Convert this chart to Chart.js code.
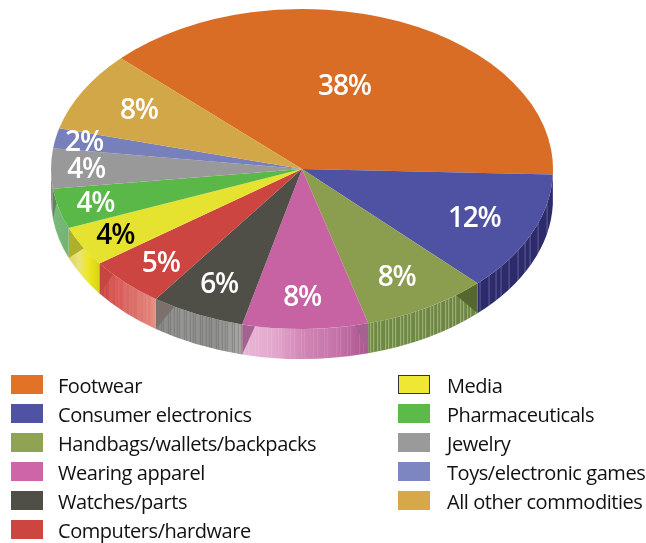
<!DOCTYPE html>
<html>
<head>
<meta charset="utf-8">
<style>
  html, body { margin: 0; background: #fff; }
  #wrap { position: relative; width: 646px; height: 543px; overflow: hidden; }
  #pie { position: absolute; left: 0; top: 0; }
  .key { position: absolute; font: 20px/29px "Open Sans", sans-serif; color: #111; white-space: nowrap; letter-spacing: -0.45px; }
  .key i { position: absolute; left: 0; top: 4px; width: 32px; height: 19px; box-sizing: border-box; }
  .key span { position: absolute; top: 0; }
</style>
</head>
<body>
<div id="wrap">
  <canvas id="pie" width="646" height="543"></canvas>
</div>
<script src="https://cdn.jsdelivr.net/npm/chart.js@4"></script>
<script>
const categories = ['Footwear', 'Consumer electronics', 'Handbags/wallets/backpacks', 'Wearing apparel', 'Watches/parts',
  'Computers/hardware', 'Media', 'Pharmaceuticals', 'Jewelry', 'Toys/electronic games', 'All other commodities']
const shares = [38, 12, 8, 8, 6, 5, 4, 4, 4, 2, 8]

const faceColors = ['#d96d25', '#4f52a3', '#8b9e4f', '#c763a3', '#4f4f47', '#cc4540', '#e6e230', '#5ab848', '#999999', '#7880bb', '#d2a747']
const swatchColors = ['#e27326', '#5052a4', '#8fa352', '#cf65a9', '#4f4f47', '#cc4540', '#eee834', '#5cbb48', '#9a9a9a', '#7d86c0', '#d6a84a']
const labelColors = ['#fff', '#fff', '#fff', '#fff', '#fff', '#fff', '#000', '#fff', '#fff', '#fff', '#fff']
const labelRadius = [0.55, 0.75, 0.77, 0.8, 0.79, 0.81, 0.85, 0.85, 0.86, 0.885, 0.75]
const labelShift = [-5, 0, 0.5, 0.7, 0, -0.7, 0, 0, 0, 0, 0.7]

// pie ellipse on the page
const cx = 302, cy = 169, rx = 251, ry = 160, depth = 30

// side wall look per slice: gradient left to right, stripes, corner shadow
const walls = [
  null,
  { stops: ['#2d2b6c', '#2d2b6c'], stripe: 'rgba(150,150,190,0.5)', gaps: [9, 7, 5, 8] },
  { stops: ['#6f8a45', '#6c8444'], stripe: 'rgba(190,205,150,0.7)', gaps: [3, 4, 3, 5], shade: '#56682f', shadeAt: 'start', shadeDeg: 6.5 },
  { stops: ['#e8b6d6', '#e3a8cc', '#d184b4', '#c473a8', '#ac5490'], stripe: 'rgba(255,255,255,0.12)', gaps: [4, 7, 3, 9], shade: '#a5618f', shadeAt: 'both', shadeDeg: 3 },
  { stops: ['#8a8a88', '#959593', '#8f8f8d', '#a8a8a6'], stripe: 'rgba(70,70,70,0.28)', gaps: [3, 2, 5, 2, 4], shade: '#7d6f6b', shadeAt: 'end', shadeDeg: 5 },
  { stops: ['#c8413f', '#d95a58', '#da7169', '#e6897c'], stripe: 'rgba(255,255,255,0.12)', gaps: [3, 5, 2, 4], shade: '#c7453f', shadeAt: 'end', shadeDeg: 5 },
  { stops: ['#dcd95e', '#e8e47c', '#ece620', '#d8d212'], shade: '#aeb02c', shadeAt: 'end', shadeDeg: 8 },
  { stops: ['#79b97a', '#72b474'], shade: '#5b8a50', shadeAt: 'end', shadeDeg: 5 },
  { stops: ['#8f8f8f', '#8f8f8f'] },
  null, null
]

function ellipseX(a) { return cx + rx * Math.cos(a) }
function ellipseY(a) { return cy + ry * Math.sin(a) }

function drawWall(ctx, wall, a0, a1, start, end) {
  const x0 = Math.min(ellipseX(a0), ellipseX(a1)), x1 = Math.max(ellipseX(a0), ellipseX(a1))
  ctx.save()
  ctx.beginPath()
  ctx.ellipse(cx, cy, rx, ry, 0, a0, a1)
  ctx.ellipse(cx, cy + depth, rx, ry, 0, a1, a0, true)
  ctx.closePath()
  ctx.clip()

  const grad = ctx.createLinearGradient(x0, 0, x1, 0)
  wall.stops.forEach((c, i) => grad.addColorStop(i / (wall.stops.length - 1), c))
  ctx.fillStyle = grad
  ctx.fillRect(x0 - 1, cy, x1 - x0 + 2, ry + depth + 2)

  if (wall.stripe) {
    ctx.fillStyle = wall.stripe
    let x = x0 + 2, i = 0
    while (x < x1) {
      ctx.fillRect(x, cy, 1, ry + depth + 2)
      x += wall.gaps[i++ % wall.gaps.length]
    }
  }

  // shadow wedge in the top corner of a wall
  const wedge = (edge, toward) => {
    ctx.fillStyle = wall.shade
    ctx.beginPath()
    ctx.moveTo(ellipseX(edge), ellipseY(edge))
    ctx.lineTo(ellipseX(toward), ellipseY(toward))
    ctx.lineTo(ellipseX(edge), ellipseY(edge) + depth)
    ctx.closePath()
    ctx.fill()
  }
  const d = (wall.shadeDeg || 0) * Math.PI / 180
  if (wall.shadeAt === 'start' || wall.shadeAt === 'both') wedge(start, start + d)
  if (wall.shadeAt === 'end' || wall.shadeAt === 'both') wedge(end, end - d)
  ctx.restore()
}

// tilts the pie into an ellipse and puts the thickness under it
const tiltPlugin = {
  id: 'tilt',
  beforeDatasetDraw(chart) {
    const ctx = chart.ctx
    const arcs = chart.getDatasetMeta(0).data
    arcs.forEach((arc, i) => {
      if (!walls[i]) return
      const a0 = Math.max(arc.startAngle, 0), a1 = Math.min(arc.endAngle, Math.PI)
      if (a1 > a0) drawWall(ctx, walls[i], a0, a1, arc.startAngle, arc.endAngle)
    })
    const first = arcs[0]
    ctx.save()
    ctx.translate(cx, cy)
    ctx.scale(rx / first.outerRadius, ry / first.outerRadius)
    ctx.translate(-first.x, -first.y)
  },
  afterDatasetDraw(chart) {
    chart.ctx.restore()
  },
  afterDraw(chart) {
    const ctx = chart.ctx
    ctx.save()
    ctx.font = '600 28px "Open Sans", sans-serif'
    ctx.letterSpacing = '-1.2px'
    ctx.textAlign = 'center'
    ctx.textBaseline = 'middle'
    chart.getDatasetMeta(0).data.forEach((arc, i) => {
      const mid = (arc.startAngle + arc.endAngle) / 2 + labelShift[i] * Math.PI / 180
      ctx.fillStyle = labelColors[i]
      ctx.fillText(shares[i] + '%', cx + rx * labelRadius[i] * Math.cos(mid), cy + 1.5 + ry * labelRadius[i] * Math.sin(mid))
    })
    ctx.restore()
  }
}

new Chart(document.getElementById('pie'), {
  type: 'pie',
  data: {
    labels: categories,
    datasets: [{ data: shares, backgroundColor: faceColors, borderWidth: 0, hoverOffset: 0 }]
  },
  options: {
    responsive: false,
    animation: false,
    events: [],
    rotation: -46.2,
    layout: { padding: { left: 51, right: 93, top: 0, bottom: 41 } },
    plugins: { legend: { display: false }, tooltip: { enabled: false } }
  },
  plugins: [tiltPlugin]
})

// two column key under the pie
const wrap = document.getElementById('wrap')
categories.forEach((name, i) => {
  const col = i < 6 ? 0 : 1
  const row = i < 6 ? i : i - 6
  const key = document.createElement('div')
  key.className = 'key'
  key.style.left = (col ? 398 : 11) + 'px'
  key.style.top = (371 + row * 29) + 'px'
  const box = document.createElement('i')
  box.style.background = swatchColors[i]
  if (name === 'Media') box.style.border = '1px solid #333'
  const text = document.createElement('span')
  text.style.left = (col ? 49 : 47) + 'px'
  text.textContent = name
  key.append(box, text)
  wrap.append(key)
})
</script>
</body>
</html>
